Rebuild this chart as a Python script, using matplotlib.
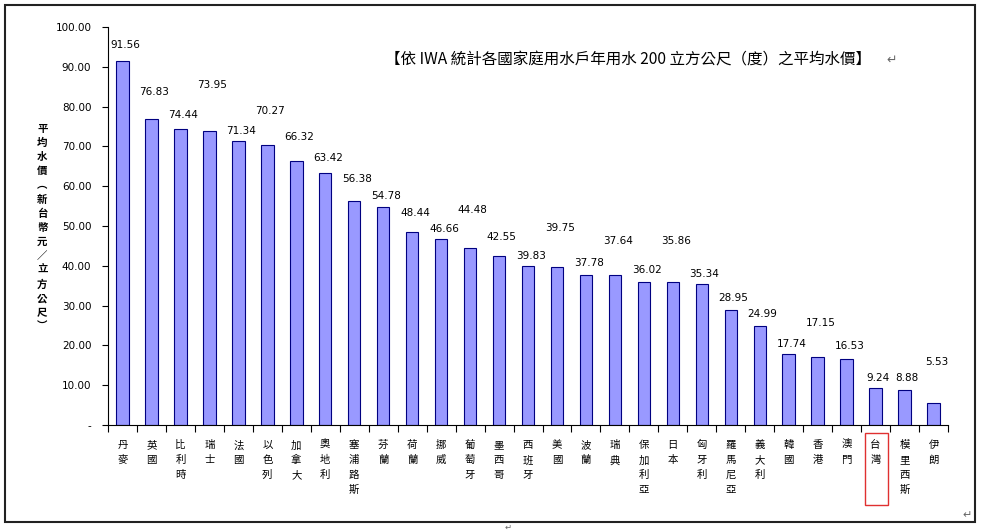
import matplotlib
matplotlib.use("Agg")
import matplotlib.pyplot as plt
from matplotlib.patches import Rectangle
from matplotlib.ticker import FuncFormatter
import numpy as np

plt.rcParams['font.family'] = ['Noto Sans CJK TC', 'DejaVu Sans']

countries = ["丹麥", "英國", "比利時", "瑞士", "法國", "以色列", "加拿大", "奧地利",
             "塞浦路斯", "芬蘭", "荷蘭", "挪威", "葡萄牙", "墨西哥", "西班牙", "美國",
             "波蘭", "瑞典", "保加利亞", "日本", "匈牙利", "羅馬尼亞", "義大利", "韓國",
             "香港", "澳門", "台灣", "模里西斯", "伊朗"]
prices = [91.56, 76.83, 74.44, 73.95, 71.34, 70.27, 66.32, 63.42, 56.38, 54.78,
          48.44, 46.66, 44.48, 42.55, 39.83, 39.75, 37.78, 37.64, 36.02, 35.86,
          35.34, 28.95, 24.99, 17.74, 17.15, 16.53, 9.24, 8.88, 5.53]

title = "【依 IWA 統計各國家庭用水戶年用水 200 立方公尺（度）之平均水價】"
ylabel = "平均水價︵新台幣元／立方公尺︶"

# how far each value label sits above its bar (points), as placed in the original
label_lift = [4, 12, 2, 25, 0, 17, 10, 3, 8, 0, 6, 0, 20, 6, 0, 20, 1, 17, 1, 22,
              0, 1, 1, 0, 17, 2, 0, 1, 22]

fig = plt.figure(figsize=(9.82, 5.32), dpi=100)
ax = fig.add_axes([0.110, 0.2011, 0.8554, 0.7481])

x = np.arange(len(countries))
ax.bar(x, prices, width=0.43, color="#9999ff", edgecolor="#000080", linewidth=0.8)

for xi, v, lift in zip(x, prices, label_lift):
    ax.annotate(f"{v:.2f}", (xi, v), xytext=(2, 4 + lift), textcoords="offset points",
                ha="center", va="bottom", fontsize=7.5, family="DejaVu Sans")

ax.set_xlim(-0.5, len(countries) - 0.5)
ax.set_ylim(0, 100)
ax.set_yticks(np.arange(0, 101, 10))
ax.yaxis.set_major_formatter(FuncFormatter(lambda v, p: "-" if v == 0 else f"{v:.2f}"))
ax.tick_params(axis="y", labelsize=7.5, length=4, width=0.8, pad=8)
for t in ax.get_yticklabels():
    t.set_family("DejaVu Sans")

ax.set_xticks(x)
ax.set_xticklabels(["\n".join(c) for c in countries], fontsize=7.5, linespacing=1.6,
                   va="top")
ax.tick_params(axis="x", length=0, pad=11)
ax.set_xticks(np.arange(-0.5, len(countries)), minor=True)
ax.tick_params(axis="x", which="minor", length=5, width=0.8)

for s in ["top", "right"]:
    ax.spines[s].set_visible(False)
ax.spines["left"].set_linewidth(0.8)
ax.spines["bottom"].set_linewidth(0.8)

fig.text(385 / 982, 0.887, title, fontsize=11.2, va="center", ha="left")
fig.text(886 / 982, 0.887, "↵", fontsize=9, color="#666666", va="center", family="DejaVu Sans")
fig.text(0.043, 1 - 228 / 532, "\n".join(ylabel), fontsize=7.5, fontweight="bold",
         ha="center", va="center", linespacing=1.5)

# red box round Taiwan's label
fig.patches.append(Rectangle((865 / 982, 1 - 505 / 532), 23 / 982, 72 / 532,
                             transform=fig.transFigure, fill=False,
                             edgecolor="#e03030", linewidth=1.0))
# outer frame
fig.patches.append(Rectangle((5 / 982, 1 - 522 / 532), 970 / 982, 517 / 532,
                             transform=fig.transFigure, fill=False,
                             edgecolor="#222222", linewidth=1.5))
fig.text(962 / 982, 1 - 515 / 532, "↵", fontsize=8, color="#666666", va="center",
         family="DejaVu Sans")
fig.text(505 / 982, 1 - 527 / 532, "↵", fontsize=6, color="#666666", va="center",
         family="DejaVu Sans")

fig.savefig("out.png", dpi=100)
